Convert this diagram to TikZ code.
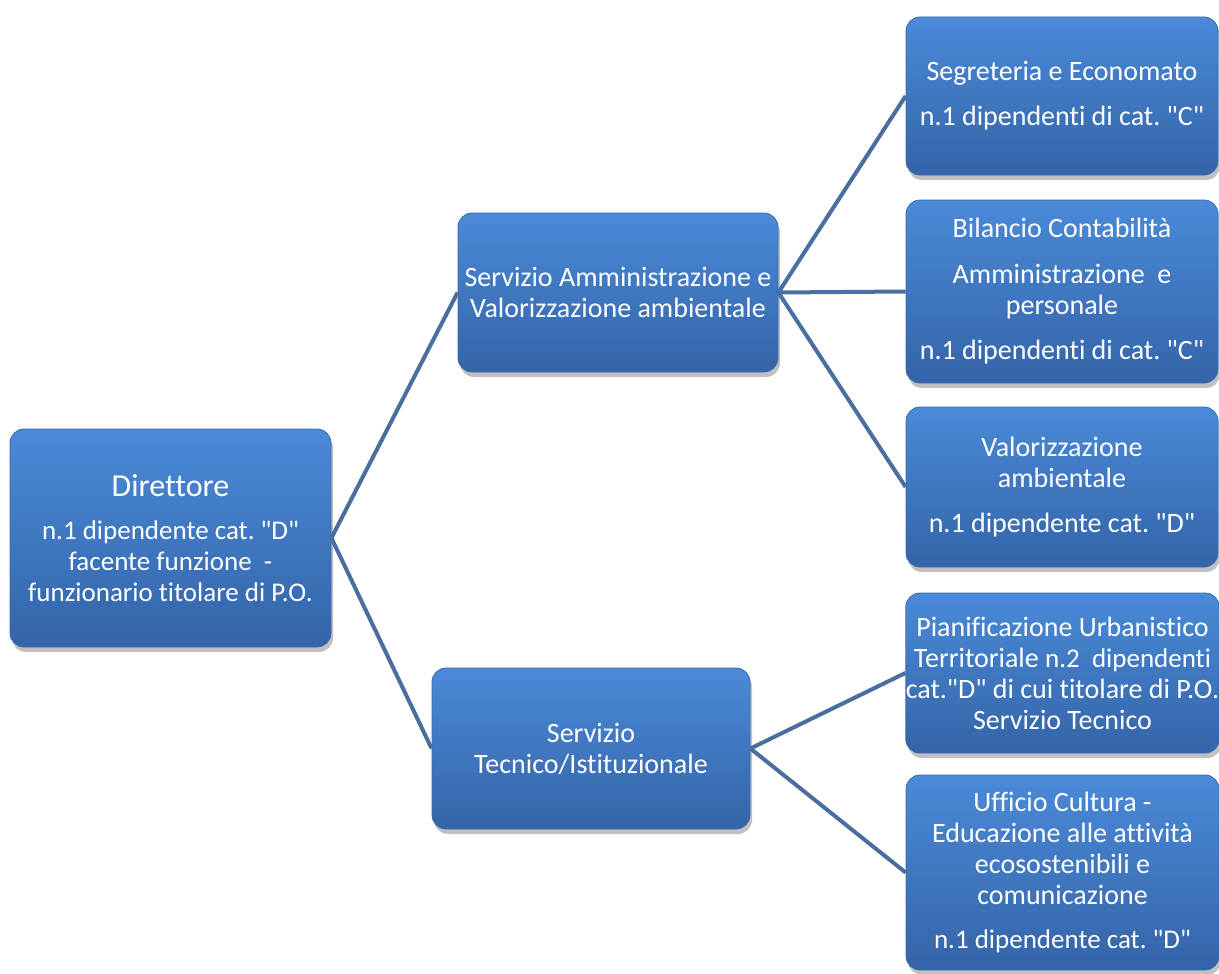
\documentclass[tikz,border=0pt]{standalone}
\usepackage{fontspec}
\setmainfont{Carlito}[Ligatures={TeX,NoCommon}]
\usetikzlibrary{shadows}
\definecolor{boxtop}{HTML}{4A8AD8}
\definecolor{boxbot}{HTML}{3464A8}
\definecolor{boxline}{HTML}{3A6AAE}
\definecolor{connc}{HTML}{4A6E9F}
\newcommand\qd{\textquotedbl}
\frenchspacing
\tikzset{
  orgbox/.style={rounded corners=14pt, top color=boxtop, bottom color=boxbot,
    draw=boxline, line width=0.8pt, text=white, align=center, inner sep=0pt,
    font=\fontsize{28}{31}\selectfont\frenchspacing,
    drop shadow={shadow xshift=2pt, shadow yshift=-5pt, opacity=0.35, fill=black!70}},
  conn/.style={draw=connc, line width=4pt}
}
\begin{document}
\begin{tikzpicture}[x=1pt,y=-1pt]
\useasboundingbox (0,0) rectangle (1219,974);
% Level 0
\node[orgbox, minimum width=321pt, minimum height=218pt] (dir) at (170.5,538)
  {{\fontsize{32}{36}\selectfont Direttore}\\[12pt]
   {\fontsize{27}{30}\selectfont n.1 dipendente cat. \qd D\qd}\\
   {\fontsize{27}{30}\selectfont facente funzione\ \ -}\\
   {\fontsize{27}{30}\selectfont funzionario titolare di P.O.}};
% Level 1
\node[orgbox, minimum width=320pt, minimum height=159pt] (sa) at (618,292.5)
  {Servizio Amministrazione e\\ Valorizzazione ambientale};
\node[orgbox, minimum width=318pt, minimum height=161pt] (st) at (591,748.5)
  {Servizio\\ Tecnico/Istituzionale};
% Level 2
\node[orgbox, minimum width=312pt, minimum height=158pt] (seg) at (1062,96)
  {Segreteria e Economato\\[14pt] n.1 dipendenti di cat. \qd C\qd};
\node[orgbox, minimum width=312pt, minimum height=183pt] (bil) at (1062,291.5)
  {Bilancio Contabilità\\[15pt] Amministrazione\ \ e\\ personale\\[14pt] n.1 dipendenti di cat. \qd C\qd};
\node[orgbox, minimum width=312pt, minimum height=160pt] (val) at (1062,487)
  {Valorizzazione\\ ambientale\\[14pt] n.1 dipendente cat. \qd D\qd};
\node[orgbox, minimum width=313pt, minimum height=160pt] (pia) at (1062.5,673)
  {Pianificazione Urbanistico\\ Territoriale {\fontsize{27}{31}\selectfont n.2\ \ dipendenti}\\ cat.\qd D\qd{} di cui titolare di P.O.\\ Servizio Tecnico};
\node[orgbox, minimum width=313pt, minimum height=195pt] (uff) at (1062.5,872.5)
  {Ufficio Cultura -\\ Educazione alle attività\\ ecosostenibili e\\ comunicazione\\[13pt] {\fontsize{27}{31}\selectfont n.1 dipendente cat. \qd D\qd}};
% Connectors
\draw[conn] (dir.east) -- (sa.west);
\draw[conn] (dir.east) -- (st.west);
\draw[conn] (sa.east) -- (seg.west);
\draw[conn] (sa.east) -- (bil.west);
\draw[conn] (sa.east) -- (val.west);
\draw[conn] (st.east) -- (pia.west);
\draw[conn] (st.east) -- (uff.west);
\end{tikzpicture}
\end{document}
